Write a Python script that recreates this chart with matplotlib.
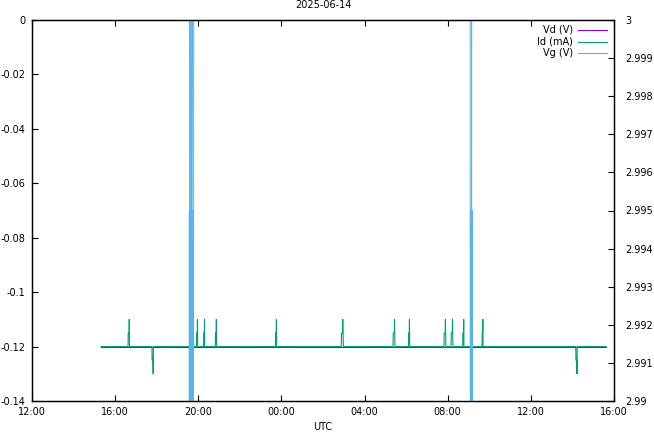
import matplotlib
matplotlib.use("Agg")
import matplotlib.pyplot as plt
from matplotlib.ticker import FuncFormatter

nan = float("nan")  # gap in the logged data

# hours since 2025-06-14 12:00 UTC
x_ticks = [0, 4, 8, 12, 16, 20, 24, 28]
x_tick_labels = ["12:00", "16:00", "20:00", "00:00", "04:00", "08:00", "12:00", "16:00"]

# Vd (V) - sits under the Id trace
vd_t = [3.32, 27.61]
vd_v = [-0.12, -0.12]

# Id (mA)
id_t = [3.32,
        4.62, 4.63, 4.67, 4.68, 4.69,
        5.77, 5.78, 5.82, 5.83, 5.84,
        7.91, 7.92, 7.95, 7.96, 7.97,
        8.25, 8.26, 8.29, 8.30, 8.31,
        8.82, 8.83, 8.86, 8.87, 8.88,
        11.71, 11.72, 11.75, 11.76, 11.77,
        14.88, 14.89, 14.94, 14.95, 14.98,
        17.37, 17.38, 17.43, 17.44, 17.46,
        18.11, 18.12, 18.15, 18.16, 18.17,
        19.82, 19.83, 19.88, 19.89, 19.91,
        20.16, 20.17, 20.22, 20.23, 20.25,
        20.72, 20.73, 20.76, 20.77, 20.78,
        21.65, 21.66, 21.68, 21.69, 21.70,
        26.16, 26.17, 26.21, 26.22, 26.23,
        27.61]
id_v = [-0.12,
        -0.12, -0.115, -0.115, -0.11, -0.12,
        -0.12, -0.125, -0.125, -0.13, -0.12,
        -0.12, -0.115, -0.115, -0.11, -0.12,
        -0.12, -0.115, -0.115, -0.11, -0.12,
        -0.12, -0.115, -0.115, -0.11, -0.12,
        -0.12, -0.115, -0.115, -0.11, -0.12,
        -0.12, -0.115, -0.115, -0.11, -0.12,
        -0.12, -0.115, -0.115, -0.11, -0.12,
        -0.12, -0.115, -0.115, -0.11, -0.12,
        -0.12, -0.115, -0.115, -0.11, -0.12,
        -0.12, -0.115, -0.115, -0.11, -0.12,
        -0.12, -0.115, -0.115, -0.11, -0.12,
        -0.12, -0.115, -0.115, -0.11, -0.12,
        -0.12, -0.125, -0.125, -0.13, -0.12,
        -0.12]

# Vg (V), right axis
vg_t = [3.32, 7.55, 7.55,
        7.55, 7.57, 7.59, 7.60,
        7.60, 7.62, 7.64, 7.66, 7.68, 7.70,
        7.70, 7.72, 7.74, 7.76, 7.78,
        21.08, 21.08, 21.10, 21.12, 21.14, 21.15,
        21.15, 21.17, 21.19, 21.20, 21.20, 21.20,
        27.61]
vg_v = [3.0, 3.0, nan,
        2.98, 2.995, 2.98, 3.0,
        2.995, 2.98, 2.995, 2.98, 2.995, 3.0,
        2.995, 2.98, 2.995, 2.98, 3.0,
        3.0, 2.995, 2.98, 2.995, 2.98, 3.0,
        2.995, 2.98, 2.995, 2.98, nan, 3.0,
        3.0]

names = ["Vd (V)", "Id (mA)", "Vg (V)"]
colors = ["#9400d3", "#009e73", "#56b4e9"]

plt.rcParams["font.family"] = ["DejaVu Sans"]
plt.rcParams["font.size"] = 7

fig = plt.figure(figsize=(6.54, 4.32), dpi=100)
ax = fig.add_axes([32 / 654, 31 / 432, 582 / 654, 381 / 432])
ax2 = ax.twinx()

ax.plot(vd_t, vd_v, color=colors[0], lw=0.8)
ax.plot(id_t, id_v, color=colors[1], lw=0.8)
ax2.plot(vg_t, vg_v, color=colors[2], lw=0.7)

ax.set_xlim(0, 28)
ax.set_ylim(-0.14, 0)
ax2.set_ylim(2.99, 3.0)
ax.set_xticks(x_ticks)
ax.set_xticklabels(x_tick_labels)
ax.set_yticks([-0.14, -0.12, -0.1, -0.08, -0.06, -0.04, -0.02, 0])
ax.yaxis.set_major_formatter(FuncFormatter(lambda v, p: "%g" % round(v, 4)))
ax2.set_yticks([2.99 + i * 0.001 for i in range(11)])
ax2.yaxis.set_major_formatter(FuncFormatter(lambda v, p: "%g" % round(v, 4)))

ax.tick_params(axis="x", direction="in", length=4, top=True, pad=4)
ax.tick_params(axis="y", direction="in", length=4, right=False, pad=5)
ax2.tick_params(axis="y", direction="in", length=4, pad=8)
for a in (ax, ax2):
    for s in a.spines.values():
        s.set_linewidth(0.9)

ax.set_xlabel("UTC", labelpad=4)
fig.text(323 / 654, 1 - 5 / 432, "2025-06-14", ha="center", va="center")

# key, gnuplot style: text right aligned, sample to the right
key_y = [0.9738, 0.9423, 0.9134]
for name, c, y in zip(names, colors, key_y):
    ax2.text(0.929, y, name, transform=ax2.transAxes, ha="right", va="center")
    ax2.plot([0.938, 0.988], [y, y], transform=ax2.transAxes, color=c, lw=0.8, clip_on=False)

fig.savefig("out.png", dpi=100)
